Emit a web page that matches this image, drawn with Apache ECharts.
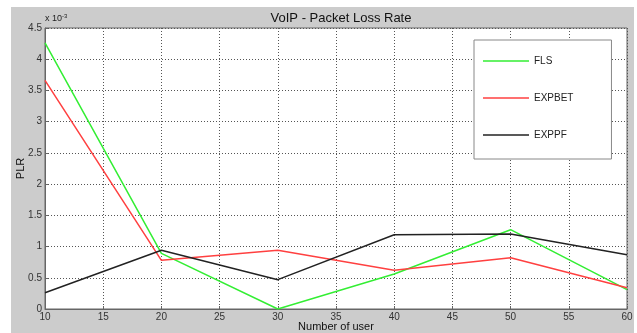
<!DOCTYPE html>
<html>
<head>
<meta charset="utf-8">
<script src="https://cdn.jsdelivr.net/npm/echarts@6/dist/echarts.min.js"></script>
<style>
html,body{margin:0;padding:0;background:#fff;}
#chart{width:637px;height:333px;}
</style>
</head>
<body>
<div id="chart"></div>
<script>
// Number of users on the x axis
const users = [10, 20, 30, 40, 50, 60];
// Packet loss rate, in units of 1e-3
const fls    = [4.26, 0.89, 0.00, 0.56, 1.27, 0.31];
const expbet = [3.66, 0.78, 0.94, 0.62, 0.82, 0.34];
const exppf  = [0.26, 0.94, 0.47, 1.19, 1.20, 0.87];

const seriesNames = ['FLS', 'EXPBET', 'EXPPF'];
const seriesColors = ['#33ee33', '#ff4040', '#222222'];
const seriesValues = [fls, expbet, exppf];

const font = 'Liberation Sans, Arial, sans-serif';
const lineIcon = 'path://M0,0L46,0L46,1.6L0,1.6Z';
const chart = echarts.init(document.getElementById('chart'));

chart.setOption({
  animation: false,
  backgroundColor: '#ffffff',
  graphic: [
    { type: 'rect', z: -10, shape: { x: 11, y: 7, width: 623, height: 326 }, style: { fill: '#cccccc' } },
    { type: 'text', left: 45, top: 13, style: {
        rich: { a: { fontSize: 9, fill: '#222', fontFamily: font }, b: { fontSize: 6, fill: '#222', fontFamily: font, verticalAlign: 'top', padding: [0,0,6,0] } },
        text: '{a|x 10}{b|-3}' } }
  ],
  title: {
    text: 'VoIP - Packet Loss Rate',
    left: 336, textAlign: 'center', top: 7,
    textStyle: { fontFamily: font, fontSize: 13, fontWeight: 'normal', color: '#111' }
  },
  legend: {
    orient: 'vertical',
    left: 474, top: 40,
    padding: [16, 38, 19, 9],
    itemWidth: 46, itemHeight: 14, itemGap: 27,
    backgroundColor: '#ffffff',
    borderColor: '#888', borderWidth: 1,
    textStyle: { fontFamily: font, fontSize: 10, color: '#222' },
    data: seriesNames.map(n => ({ name: n, icon: lineIcon }))
  },
  grid: {
    left: 45, top: 28, right: 10, bottom: 24,
    outerBoundsMode: 'none',
    show: true, backgroundColor: '#ffffff', borderColor: '#666', borderWidth: 1
  },
  xAxis: {
    type: 'value', min: 10, max: 60, interval: 5,
    name: 'Number of user', nameLocation: 'middle', nameGap: 12, nameMoveOverlap: false,
    nameTextStyle: { fontFamily: font, fontSize: 11, color: '#111' },
    axisLine: { show: true, lineStyle: { color: '#666' } },
    axisTick: { show: true, inside: true, length: 3, lineStyle: { color: '#666' } },
    axisLabel: { fontFamily: font, fontSize: 10, color: '#333', margin: 3 },
    splitLine: { show: true, lineStyle: { color: '#555', type: [1, 2], width: 1 } }
  },
  yAxis: {
    type: 'value', min: 0, max: 4.5, interval: 0.5,
    name: 'PLR', nameLocation: 'middle', nameGap: 19, nameMoveOverlap: false,
    nameTextStyle: { fontFamily: font, fontSize: 11, color: '#111' },
    axisLine: { show: true, lineStyle: { color: '#666' } },
    axisTick: { show: true, inside: true, length: 3, lineStyle: { color: '#666' } },
    axisLabel: { fontFamily: font, fontSize: 10, color: '#333', margin: 3 },
    splitLine: { show: true, lineStyle: { color: '#555', type: [1, 2], width: 1 } }
  },
  series: seriesNames.map((name, i) => ({
    name: name,
    type: 'line',
    symbol: 'none',
    color: seriesColors[i],
    lineStyle: { width: 1.5, color: seriesColors[i] },
    data: users.map((u, j) => [u, seriesValues[i][j]])
  }))
});
</script>
</body>
</html>
